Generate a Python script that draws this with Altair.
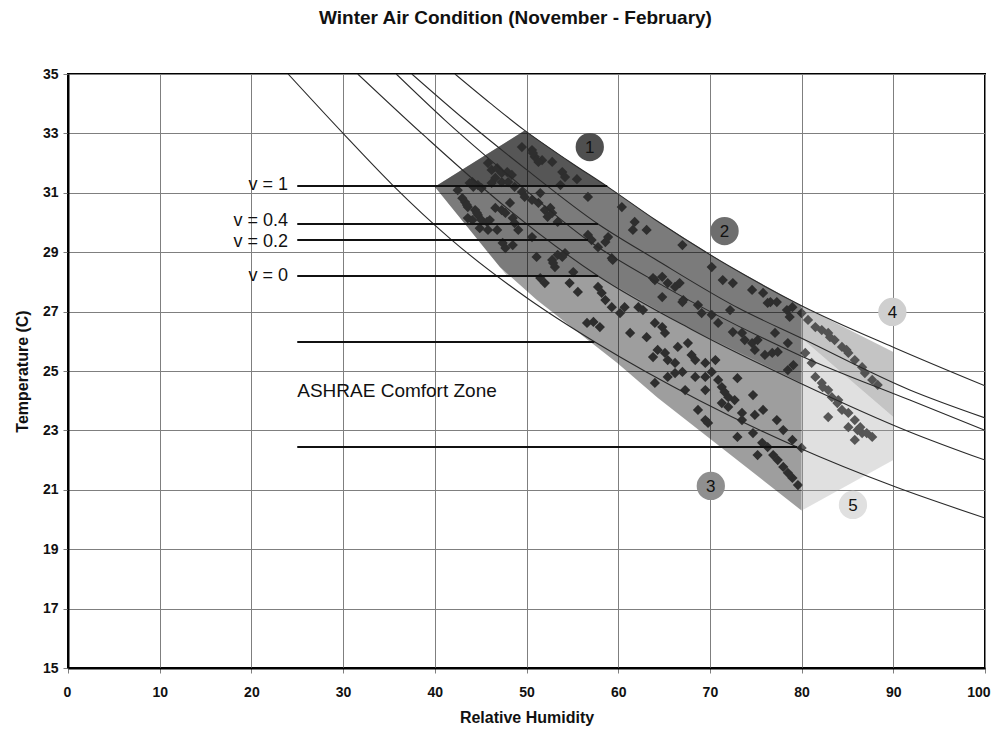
import altair as alt
import pandas as pd

FONT = "Liberation Sans"

title_text = "Winter Air Condition (November - February)"
x_title = "Relative Humidity"
y_title = "Temperature (C)"
x_ticks = [0, 10, 20, 30, 40, 50, 60, 70, 80, 90, 100]
y_ticks = [15, 17, 19, 21, 23, 25, 27, 29, 31, 33, 35]

# ---- comfort curves (RH, T) ----
c1_rh = [24.0, 30.0, 35.4, 41.7, 50.1, 57.6, 68.9, 79.5, 90.2, 100.0]
c1_t = [35.0, 33.0, 31.26, 29.45, 27.45, 25.95, 24.0, 22.44, 21.1, 20.05]
c2_rh = [31.6, 39.0, 48.0, 57.8, 68.0, 79.8, 91.8, 100.0]
c2_t = [35.0, 32.88, 30.45, 28.2, 26.4, 24.6, 22.95, 22.0]
c3_rh = [35.8, 41.1, 48.0, 56.7, 65.0, 80.0, 91.8, 100.0]
c3_t = [35.0, 33.45, 31.6, 29.4, 27.85, 25.5, 24.02, 23.0]
c4_rh = [37.5, 43.3, 50.0, 57.8, 64.0, 73.1, 80.0, 91.8, 100.0]
c4_t = [35.0, 33.45, 31.78, 29.95, 28.77, 27.12, 26.1, 24.36, 23.42]
c5_rh = [42.2, 46.0, 49.8, 54.5, 59.1, 64.0, 72.0, 80.0, 90.0, 100.0]
c5_t = [35.0, 34.03, 33.1, 32.09, 31.15, 30.1, 28.55, 27.2, 25.8, 24.5]

# ---- zones (polygon vertices) ----
zone3_rh = [40.0, 49.8, 54.5, 59.1, 64.0, 72.0, 80.0, 80.0, 64.3, 59.9, 51.1, 47.1]
zone3_t = [31.2, 33.1, 32.09, 31.15, 30.1, 28.55, 27.2, 20.3, 24.1, 25.27, 27.4, 28.5]
zone2_rh = [40.0, 49.8, 54.5, 59.1, 64.0, 72.0, 80.0, 80.0, 68.0, 57.8, 47.9, 47.1]
zone2_t = [31.2, 33.1, 32.09, 31.15, 30.1, 28.55, 27.2, 24.6, 26.4, 28.2, 28.2, 28.5]
zone1_rh = [40.0, 49.8, 54.5, 58.8]
zone1_t = [31.2, 33.1, 32.09, 31.2]
zone4_rh = [80.0, 90.0, 90.0, 80.0]
zone4_t = [27.2, 25.64, 23.45, 26.1]
zone5_rh = [80.0, 90.0, 90.0, 80.0]
zone5_t = [26.1, 23.45, 22.0, 20.3]

# ---- horizontal velocity lines ----
hl_t = [31.23, 29.95, 29.41, 28.2, 25.98, 22.44]
hl_start = [25.0, 25.0, 25.0, 25.0, 25.0, 25.0]
hl_end = [58.8, 57.8, 56.7, 57.8, 57.4, 79.5]

v_labels = ["v = 1", "v = 0.4", "v = 0.2", "v = 0"]
v_label_t = [31.26, 30.06, 29.33, 28.2]
v_label_rh = [24.0, 24.0, 24.0, 24.0]

zone_text = ["ASHRAE Comfort Zone"]
zone_text_rh = [25.0]
zone_text_t = [24.33]

circ_labels = ["1", "2", "3", "4", "5"]
circ_rh = [56.9, 71.6, 70.1, 89.9, 85.6]
circ_t = [32.54, 29.71, 21.13, 26.99, 20.49]
circ_colors = ["#4f4f4f", "#6e6e6e", "#8f8f8f", "#cfcfcf", "#e0e0e0"]

# ---- measured air conditions ----
pts_rh = [
    49.5, 50.6, 50.9, 51.7, 51.3, 52.8, 50.7, 53.9, 54.2, 55.5,
    53.7, 45.8, 46.2, 46.8, 47.3, 47.9, 48.4, 46.6, 47.3, 48.0,
    46.2, 44.1, 44.7, 45.1, 42.5, 48.7, 49.5, 49.8, 50.6, 51.3,
    51.5, 52.0, 52.6, 52.8, 52.3, 53.4, 56.7, 43.0, 43.3, 43.6,
    44.4, 44.7, 43.6, 44.1, 45.1, 45.7, 46.6, 47.3, 47.7, 48.5,
    48.7, 49.1, 46.8, 45.8, 50.6, 47.4, 47.7, 48.5, 51.1, 52.8,
    53.1, 53.4, 53.9, 54.2, 51.5, 52.0, 54.7, 55.6, 55.1, 56.7,
    57.1, 57.8, 58.6, 58.9, 59.3, 57.8, 58.2, 58.6, 59.3, 60.4,
    61.8, 61.6, 63.1, 64.0, 60.7, 62.2,
    43.8, 44.2, 43.5, 44.6, 44.9, 46.0, 48.2,
    67.0, 70.2, 71.4, 72.5, 74.6, 75.8, 76.6, 77.3, 79.0, 64.8,
    65.4, 66.2, 66.7, 67.0, 68.7, 64.8,
    69.1, 70.2, 70.9, 72.2, 72.5, 73.5, 73.8, 74.6, 74.9, 75.2,
    76.0, 76.8, 77.4, 77.1, 78.5, 78.5, 79.1, 76.3, 78.4, 78.7,
    64.0, 64.8, 65.1, 64.3, 65.1, 65.4, 66.2, 66.5, 67.6, 68.0,
    68.4, 69.5, 70.6, 64.0, 65.4, 66.2, 67.0, 67.3, 68.4, 69.5,
    70.2, 69.5, 70.9, 71.3, 71.6, 72.0, 71.3, 72.0, 72.7, 73.0,
    73.5, 73.5, 74.7, 74.9, 75.8, 68.7, 69.5, 69.8, 73.0, 74.7,
    75.7, 76.3, 77.3, 78.0, 79.0, 75.2, 76.9, 77.4, 78.0, 78.5,
    79.0, 79.6, 80.0,
    80.0, 80.7, 81.5, 82.2, 82.9, 83.6, 84.4, 85.1, 85.8, 86.6,
    86.9, 87.7, 88.3, 80.4, 81.1, 81.5, 82.2, 82.9, 83.3, 84.0,
    82.9, 84.4, 85.1, 85.1, 85.8, 86.1, 86.6, 85.8, 87.7, 82.3,
    83.9, 87.1, 86.4, 83.1, 84.9,
    56.6, 57.3, 58.0, 61.3, 63.1, 63.8, 52.9, 60.2, 62.7, 59.4,
    63.8, 67.1,
]
pts_t = [
    32.54, 32.44, 32.21, 32.10, 32.04, 32.04, 32.34, 31.70, 31.53, 31.46,
    31.26, 32.00, 31.77, 31.83, 31.67, 31.70, 31.60, 31.50, 31.36, 31.36,
    31.33, 31.36, 31.26, 31.16, 31.09, 31.20, 31.03, 30.86, 30.76, 30.66,
    30.99, 30.42, 30.49, 30.32, 30.19, 30.02, 30.86, 30.82, 30.69, 30.52,
    30.42, 30.25, 30.15, 30.08, 30.08, 30.02, 30.49, 30.42, 30.32, 30.15,
    29.98, 29.75, 29.75, 29.75, 29.51, 29.31, 29.14, 29.24, 28.84, 28.74,
    28.50, 28.91, 28.84, 28.97, 28.13, 27.96, 27.96, 27.66, 28.33, 29.58,
    29.41, 29.17, 29.34, 29.51, 28.80, 27.83, 27.63, 27.39, 27.15, 30.52,
    30.02, 29.75, 29.75, 28.06, 27.15, 27.15,
    31.33, 31.20, 30.59, 30.32, 29.81, 30.08, 30.66,
    29.24, 28.50, 28.06, 27.96, 27.73, 27.63, 27.32, 27.32, 27.15, 28.17,
    27.96, 27.83, 27.96, 27.32, 27.22, 27.49,
    26.95, 26.89, 26.62, 27.05, 26.31, 26.28, 26.04, 25.94, 25.71, 26.04,
    25.54, 25.61, 25.64, 26.28, 25.94, 25.03, 25.20, 27.29, 27.05, 26.82,
    26.62, 26.48, 26.28, 25.71, 25.61, 25.37, 25.27, 25.81, 25.94, 25.54,
    25.37, 25.27, 25.37, 24.60, 24.80, 24.93, 24.97, 24.36, 24.80, 24.80,
    24.97, 24.36, 24.70, 24.46, 24.29, 24.12, 23.92, 23.79, 24.02, 24.76,
    23.59, 23.35, 24.19, 23.52, 23.69, 23.69, 23.35, 23.25, 22.78, 22.91,
    22.58, 22.44, 23.35, 23.01, 22.68, 22.17, 22.17, 22.00, 21.77, 21.57,
    21.40, 21.16, 22.41,
    26.95, 26.72, 26.48, 26.38, 26.28, 26.04, 25.81, 25.61, 25.37, 25.13,
    24.93, 24.70, 24.53, 25.61, 25.27, 24.80, 24.60, 24.36, 24.12, 24.02,
    23.45, 23.69, 23.59, 23.11, 23.35, 23.01, 22.91, 22.68, 22.78, 24.46,
    23.92, 22.91, 23.11, 26.14, 25.71,
    26.62, 26.65, 26.48, 26.28, 26.14, 25.47, 28.64, 26.95, 27.05, 28.74,
    28.13, 27.39,
]

# ---- shared encodings ----
X = alt.X(
    "rh:Q",
    scale=alt.Scale(domain=[0, 100], nice=False, zero=False),
    axis=alt.Axis(
        values=x_ticks, title=x_title, grid=True, tickSize=5, labelPadding=12,
        titlePadding=10, labelFlush=True, labelFlushOffset=5, labelOverlap=False,
    ),
)
Y = alt.Y(
    "t:Q",
    scale=alt.Scale(domain=[15, 35], nice=False, zero=False),
    axis=alt.Axis(
        values=y_ticks, title=y_title, grid=True, tickSize=5, labelPadding=5,
        titlePadding=12, labelFlush=False, labelOverlap=False,
    ),
)


def poly(rh, t, fill, op):
    df = pd.DataFrame({"rh": rh, "t": t, "ord": list(range(len(rh)))})
    return alt.Chart(df).mark_line(
        fill=fill, fillOpacity=op, strokeOpacity=0, interpolate="linear"
    ).encode(x=X, y=Y, order="ord:Q")


curve_rows = []
for name, rr, tt in [("c1", c1_rh, c1_t), ("c2", c2_rh, c2_t), ("c3", c3_rh, c3_t),
                     ("c4", c4_rh, c4_t), ("c5", c5_rh, c5_t)]:
    for r, t in zip(rr, tt):
        curve_rows.append({"rh": r, "t": t, "curve": name})
curves_df = pd.DataFrame(curve_rows)

pts_df = pd.DataFrame({"rh": pts_rh, "t": pts_t})
hl_df = pd.DataFrame({"rh": hl_start, "rh2": hl_end, "t": hl_t})
vl_df = pd.DataFrame({"rh": v_label_rh, "t": v_label_t, "label": v_labels})
zt_df = pd.DataFrame({"rh": zone_text_rh, "t": zone_text_t, "label": zone_text})
circ_df = pd.DataFrame({"rh": circ_rh, "t": circ_t, "label": circ_labels})

zone3 = poly(zone3_rh, zone3_t, "#000000", 0.38)
zone2 = poly(zone2_rh, zone2_t, "#000000", 0.22)
zone1 = poly(zone1_rh, zone1_t, "#000000", 0.30)
zone4 = poly(zone4_rh, zone4_t, "#7e7e7e", 0.456)
zone5 = poly(zone5_rh, zone5_t, "#a5a5a5", 0.343)

points = alt.Chart(pts_df).mark_point(
    shape="diamond", filled=True, size=105, color="#2e2e2e", opacity=1
).encode(x=X, y=Y)

curves = alt.Chart(curves_df).mark_line(
    color="#2a2a2a", strokeWidth=1.1, interpolate="monotone", clip=True
).encode(x=X, y=Y, detail="curve:N")

hlines = alt.Chart(hl_df).mark_rule(color="#111111", strokeWidth=2).encode(
    x=X, x2="rh2:Q", y=Y
)

vtext = alt.Chart(vl_df).mark_text(
    align="right", baseline="middle", fontSize=18, font=FONT, color="#111111"
).encode(x=X, y=Y, text="label:N")

ztext = alt.Chart(zt_df).mark_text(
    align="left", baseline="middle", fontSize=19, font=FONT, color="#111111"
).encode(x=X, y=Y, text="label:N")

circles = alt.Chart(circ_df).mark_circle(size=800, opacity=1).encode(
    x=X, y=Y,
    color=alt.Color("label:N", scale=alt.Scale(domain=circ_labels, range=circ_colors), legend=None),
)
circ_text = alt.Chart(circ_df).mark_text(
    align="center", baseline="middle", fontSize=17, font=FONT, color="#111111", dy=1
).encode(x=X, y=Y, text="label:N")

chart = alt.layer(
    zone3, zone2, zone1, points, zone4, zone5, curves, hlines,
    vtext, ztext, circles, circ_text,
).properties(
    width=917,
    height=594,
    title=alt.TitleParams(
        title_text, fontSize=19, fontWeight="bold", font=FONT, offset=39,
        anchor="middle", dx=-11, color="#111111",
    ),
    autosize=alt.AutoSizeParams(type="none"),
    padding={"left": 60, "top": 66, "right": 6, "bottom": 59},
).configure_view(
    stroke="#000000", strokeWidth=2
).configure_axis(
    gridColor="#7f7f7f", gridWidth=1, gridOpacity=1,
    domainColor="#000000", domainWidth=2,
    tickColor="#7f7f7f", tickWidth=1,
    labelFont=FONT, labelFontSize=14, labelFontWeight="bold", labelColor="#111111",
    titleFont=FONT, titleFontSize=16, titleFontWeight="bold", titleColor="#111111",
)

chart.save("out.html", embed_options={"renderer": "svg", "actions": False})
